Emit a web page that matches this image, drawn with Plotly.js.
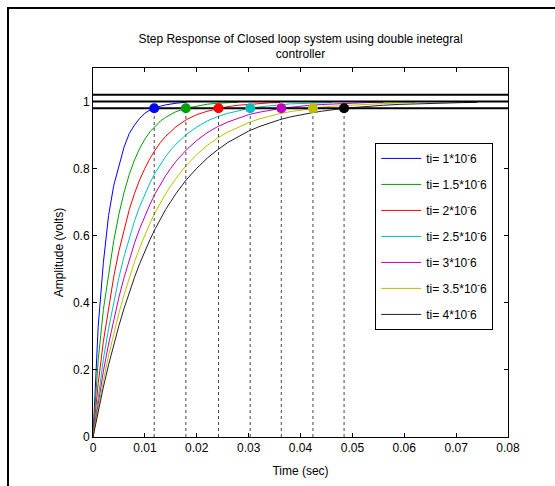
<!DOCTYPE html>
<html>
<head>
<meta charset="utf-8">
<script src="https://cdn.plot.ly/plotly-3.0.1.min.js"></script>
<style>
  html, body { margin: 0; padding: 0; background: #fff; }
  #wrap { position: relative; width: 555px; height: 486px; overflow: hidden; }
  #chart { position: absolute; left: 0; top: 0; width: 555px; height: 486px; }
  #frame { position: absolute; left: 7px; top: 7px; width: 560px; height: 490px;
           border-top: 2px solid #000; border-left: 2px solid #000; pointer-events: none; }
</style>
</head>
<body>
<div id="wrap"><div id="chart"></div><div id="frame"></div></div>
<script>
// ---- data ----
const time = [0, 0.001, 0.002, 0.003, 0.004, 0.005, 0.006, 0.007, 0.008, 0.009, 0.010,
  0.011, 0.012, 0.013, 0.014, 0.015, 0.016, 0.018, 0.020, 0.022, 0.024, 0.026, 0.028,
  0.030, 0.032, 0.034, 0.036, 0.038, 0.040, 0.042, 0.044, 0.046, 0.048, 0.050, 0.053,
  0.056, 0.059, 0.062, 0.065, 0.068, 0.071, 0.074];

const seriesNames = ['ti= 1*10<sup>-</sup>6', 'ti= 1.5*10<sup>-</sup>6', 'ti= 2*10<sup>-</sup>6',
  'ti= 2.5*10<sup>-</sup>6', 'ti= 3*10<sup>-</sup>6', 'ti= 3.5*10<sup>-</sup>6', 'ti= 4*10<sup>-</sup>6'];
const seriesColors = ['#0000ff', '#00a000', '#ff0000', '#00bfbf', '#bf00bf', '#bfbf00', '#222222'];
const markerColors = ['#0000ff', '#00a000', '#ff0000', '#00bfbf', '#bf00bf', '#bfbf00', '#000000'];

const ti1 = [0, 0.33, 0.52, 0.66, 0.75, 0.81, 0.865, 0.905, 0.93, 0.95, 0.965, 0.975, 0.981,
  0.986, 0.99, 0.993, 0.995, 0.998];
const ti15 = [0, 0.23, 0.38, 0.49, 0.585, 0.665, 0.73, 0.783, 0.826, 0.86, 0.888, 0.91, 0.927,
  0.942, 0.953, 0.962, 0.97, 0.98, 0.987, 0.992, 0.995, 0.9966, 0.9978];
const ti2 = [0, 0.16, 0.285, 0.388, 0.478, 0.555, 0.621, 0.678, 0.726, 0.767, 0.801, 0.831, 0.856,
  0.878, 0.896, 0.912, 0.925, 0.946, 0.961, 0.971, 0.979, 0.985, 0.989, 0.992, 0.994, 0.996, 0.997];
const ti25 = [0, 0.125, 0.232, 0.323, 0.404, 0.476, 0.539, 0.595, 0.644, 0.687, 0.725, 0.758, 0.788,
  0.813, 0.836, 0.856, 0.873, 0.902, 0.924, 0.942, 0.955, 0.965, 0.973, 0.979, 0.984, 0.988, 0.99,
  0.993, 0.994, 0.996, 0.997, 0.997];
const ti3 = [0, 0.104, 0.196, 0.277, 0.35, 0.417, 0.476, 0.53, 0.578, 0.621, 0.66, 0.694, 0.726,
  0.754, 0.779, 0.801, 0.822, 0.856, 0.884, 0.907, 0.925, 0.939, 0.951, 0.961, 0.968, 0.974, 0.979,
  0.983, 0.987, 0.989, 0.991, 0.993, 0.994, 0.995, 0.997, 0.998];
const ti35 = [0, 0.089, 0.168, 0.242, 0.309, 0.37, 0.425, 0.476, 0.522, 0.564, 0.603, 0.638, 0.67,
  0.699, 0.725, 0.749, 0.771, 0.81, 0.842, 0.869, 0.891, 0.909, 0.924, 0.937, 0.948, 0.957, 0.964,
  0.97, 0.975, 0.979, 0.983, 0.986, 0.988, 0.99, 0.992, 0.994, 0.996, 0.997];
const ti4 = [0, 0.078, 0.149, 0.215, 0.276, 0.332, 0.384, 0.432, 0.476, 0.517, 0.554, 0.589, 0.621,
  0.65, 0.678, 0.702, 0.726, 0.767, 0.801, 0.831, 0.856, 0.878, 0.896, 0.912, 0.925, 0.936, 0.946,
  0.954, 0.961, 0.966, 0.971, 0.976, 0.979, 0.982, 0.986, 0.989, 0.9915, 0.9933, 0.995, 0.996,
  0.9968, 0.9975];
const allSeries = [ti1, ti15, ti2, ti25, ti3, ti35, ti4];

const settleTimes = [0.0118, 0.0179, 0.0242, 0.0303, 0.0363, 0.0424, 0.0484];
const settleLevel = 0.98;
const bandLevels = [0.98, 1.0, 1.02];
const xRange = [0, 0.08];
const yRange = [0, 1.1];
const xTicks = [0, 0.01, 0.02, 0.03, 0.04, 0.05, 0.06, 0.07, 0.08];
const xTickText = ['0', '0.01', '0.02', '0.03', '0.04', '0.05', '0.06', '0.07', '0.08'];
const yTicks = [0, 0.2, 0.4, 0.6, 0.8, 1];
const yTickText = ['0', '0.2', '0.4', '0.6', '0.8', '1'];

// ---- traces ----
const traces = [];
allSeries.forEach((ys, i) => {
  traces.push({
    x: time.slice(0, ys.length), y: ys, type: 'scatter', mode: 'lines',
    name: seriesNames[i], legendgroup: 'g' + i,
    line: { color: seriesColors[i], width: 1 }, hoverinfo: 'skip'
  });
});
settleTimes.forEach((ts) => {
  traces.push({
    x: [ts, ts], y: [0, settleLevel], type: 'scatter', mode: 'lines', showlegend: false,
    line: { color: '#444444', width: 1, dash: 'dot' }, hoverinfo: 'skip'
  });
});
bandLevels.forEach((lv) => {
  traces.push({
    x: xRange, y: [lv, lv], type: 'scatter', mode: 'lines', showlegend: false,
    line: { color: '#000000', width: 2 }, hoverinfo: 'skip'
  });
});
settleTimes.forEach((ts, i) => {
  traces.push({
    x: [ts], y: [settleLevel], type: 'scatter', mode: 'markers', showlegend: false,
    marker: { color: markerColors[i], size: 10, line: { width: 0 } }, hoverinfo: 'skip'
  });
});

const font = { family: 'Liberation Sans, Arial, sans-serif', size: 12, color: '#000' };
const layout = {
  width: 555, height: 486,
  margin: { l: 93, r: 47, t: 68, b: 49 },
  paper_bgcolor: '#fff', plot_bgcolor: '#fff',
  font: font,
  showlegend: true,
  title: {
    text: 'Step Response of Closed loop system using double inetegral<br>controller',
    font: { family: font.family, size: 12, color: '#000' },
    x: 0.5, xref: 'paper', xanchor: 'center',
    y: 0.912, yref: 'container', yanchor: 'top'
  },
  xaxis: {
    range: xRange, tickvals: xTicks, ticktext: xTickText,
    ticks: 'inside', ticklen: 4, tickcolor: '#000', mirror: 'ticks',
    showline: true, linecolor: '#000', linewidth: 1, showgrid: false, zeroline: false,
    title: { text: 'Time (sec)', font: font, standoff: 12 },
    tickfont: font
  },
  yaxis: {
    range: yRange, tickvals: yTicks, ticktext: yTickText,
    ticks: 'inside', ticklen: 4, tickcolor: '#000', mirror: 'ticks',
    showline: true, linecolor: '#000', linewidth: 1, showgrid: false, zeroline: false,
    title: { text: 'Amplitude (volts)', font: font, standoff: 6 },
    tickfont: font
  },
  legend: {
    x: 0.68, y: 0.797, xanchor: 'left', yanchor: 'top',
    bgcolor: '#fff', bordercolor: '#000', borderwidth: 1,
    font: font, tracegroupgap: 7, traceorder: 'grouped', itemwidth: 40
  }
};

Plotly.newPlot('chart', traces, layout, { staticPlot: true, displayModeBar: false });
</script>
</body>
</html>
